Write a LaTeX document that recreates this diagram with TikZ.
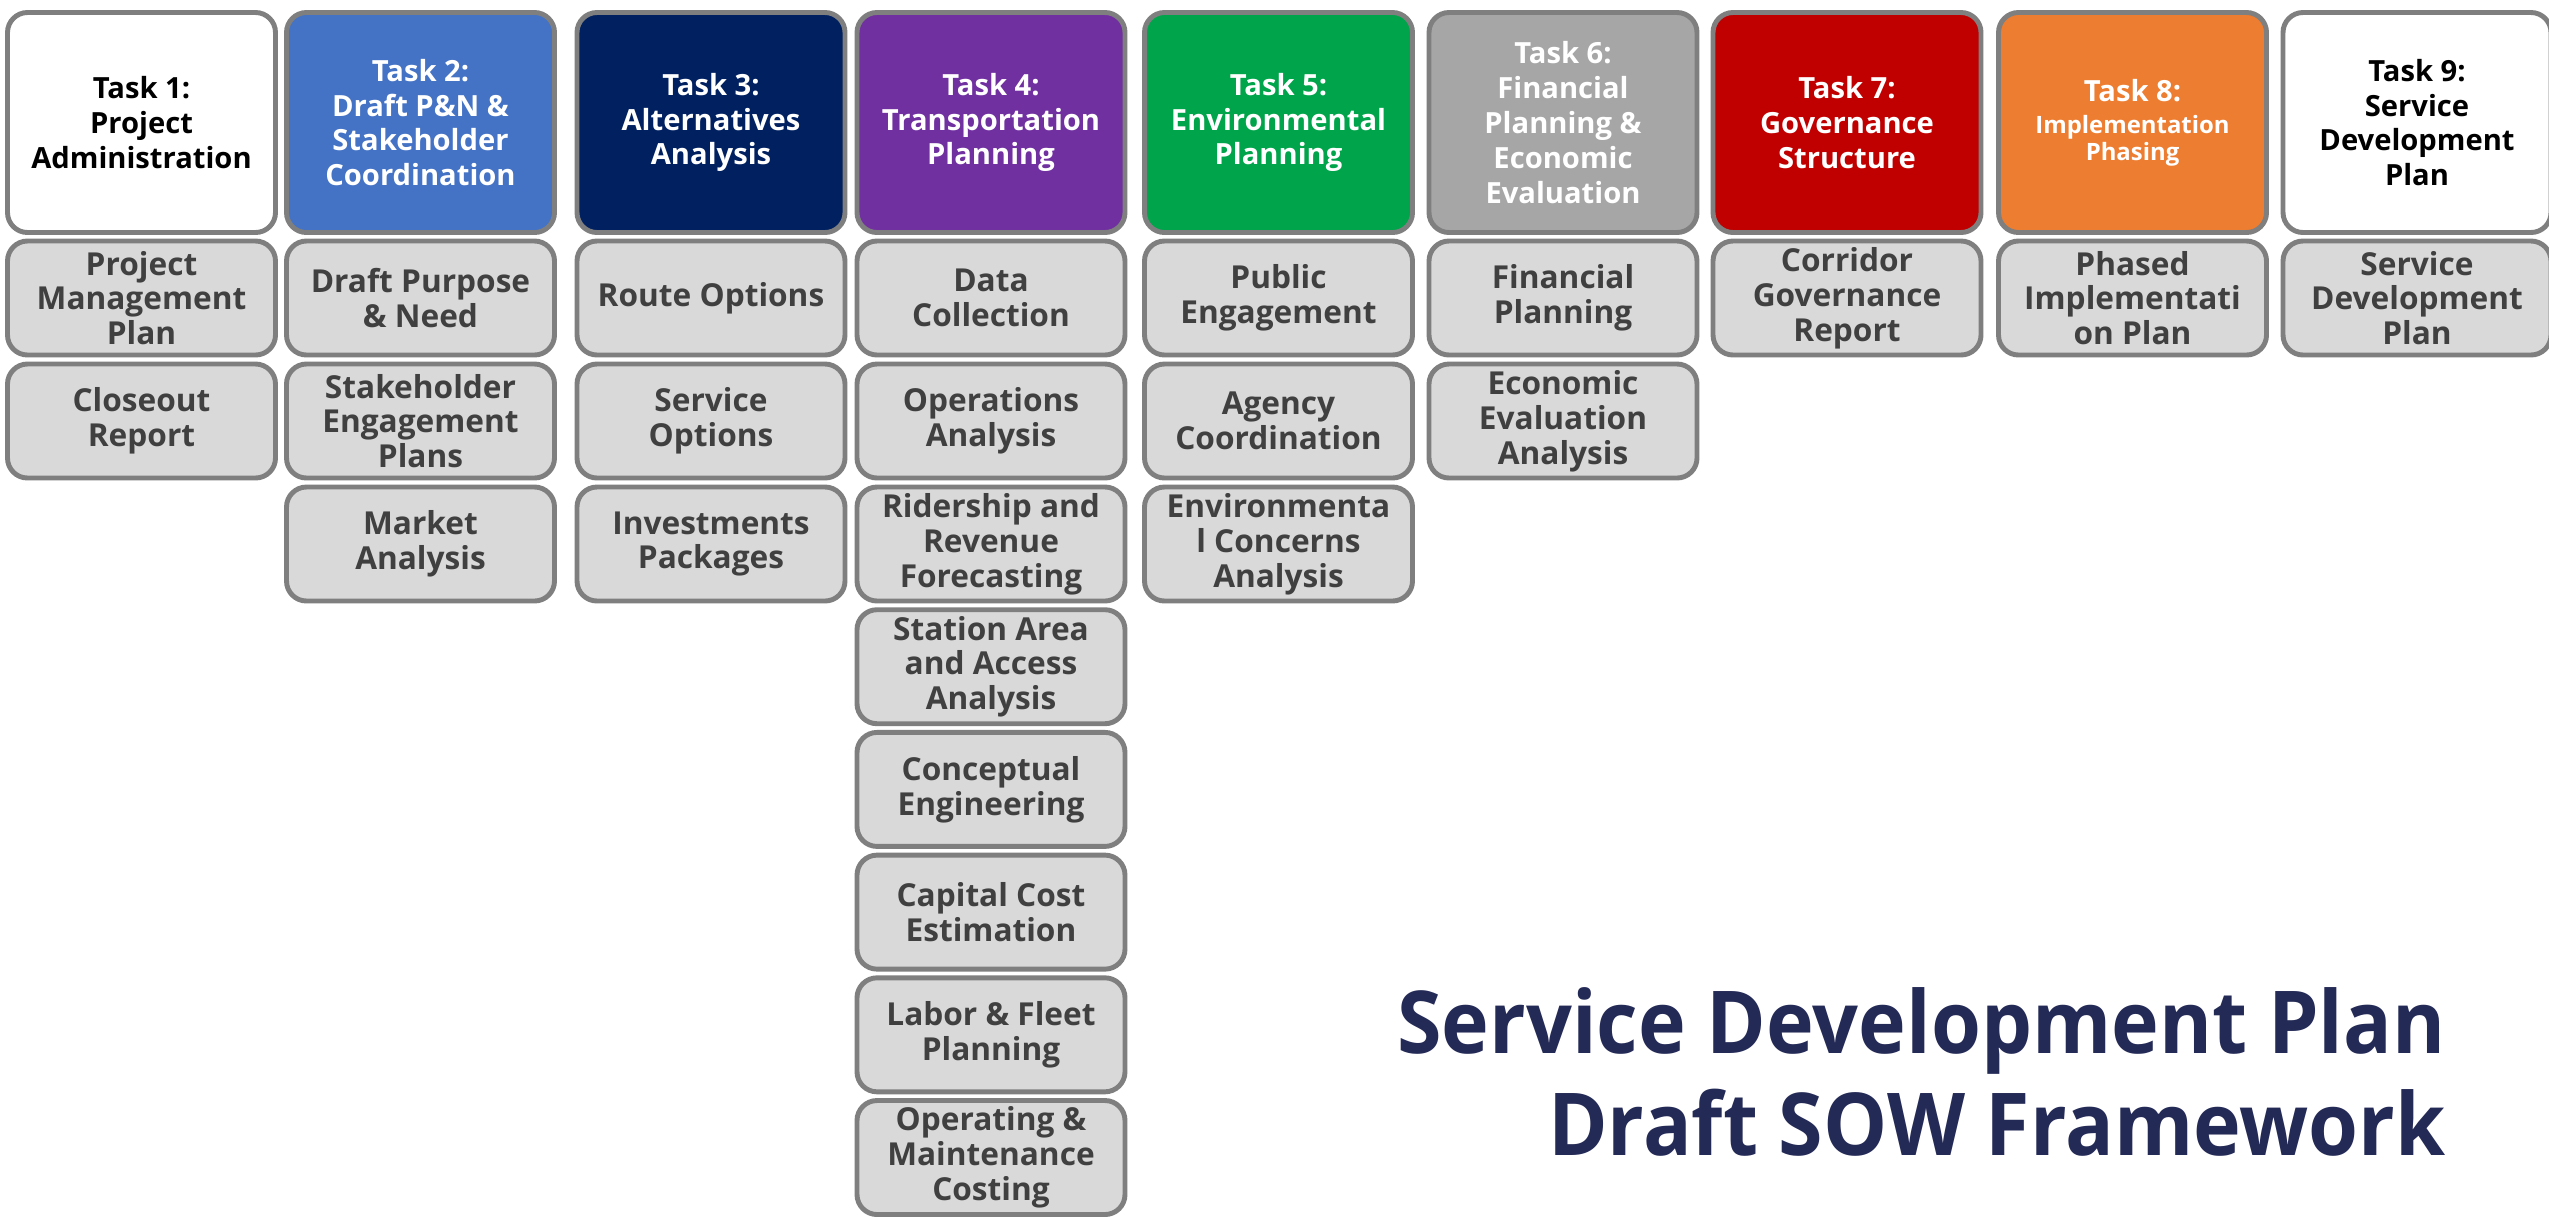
\documentclass[tikz,border=0pt]{standalone}
\usepackage{fontspec}
\setmainfont{Open Sans}
\newfontfamily\titlefont{Open Sans}[FakeStretch=0.93]
\usepackage{tikz}

\definecolor{boxline}{HTML}{7F7F7F}
\definecolor{subfill}{HTML}{D9D9D9}
\definecolor{subtext}{HTML}{404040}
\definecolor{taskblue}{HTML}{4472C4}
\definecolor{tasknavy}{HTML}{002060}
\definecolor{taskpurple}{HTML}{7030A0}
\definecolor{taskgreen}{HTML}{00A44A}
\definecolor{taskgrey}{HTML}{A6A6A6}
\definecolor{taskred}{HTML}{C00000}
\definecolor{taskorange}{HTML}{ED7D31}
\definecolor{titlenavy}{HTML}{242A56}

\tikzset{
    task/.style={draw=boxline, line width=1.4pt, rounded corners=0.2cm,
        minimum width=2.68cm, minimum height=2.2cm, inner sep=0pt,
        align=center, font=\bfseries\fontsize{8.3}{9.9}\selectfont},
    deliverable/.style={draw=boxline, fill=subfill, text=subtext,
        line width=1.4pt, rounded corners=0.2cm,
        minimum width=2.68cm, minimum height=1.14cm, inner sep=0pt,
        align=center, font=\bfseries\fontsize{9}{9.9}\selectfont}
}
\newcommand{\smalltask}{\fontsize{6.8}{7.7}\selectfont}

\begin{document}
\begin{tikzpicture}
            \path[fill=white, use as bounding box] (0, 0) rectangle (25.49, -12.17);

            % task headers
            \node[task, fill=white, text=black] (t1) at (1.415, -1.225) {Task 1:\\Project\\Administration};
            \node[task, fill=taskblue, text=white] (t2) at (4.205, -1.225) {Task 2:\\Draft P\&N \&\\Stakeholder\\Coordination};
            \node[task, fill=tasknavy, text=white] (t3) at (7.11, -1.225) {Task 3:\\Alternatives\\Analysis};
            \node[task, fill=taskpurple, text=white] (t4) at (9.91, -1.225) {Task 4:\\Transportation\\Planning};
            \node[task, fill=taskgreen, text=white] (t5) at (12.785, -1.225) {Task 5:\\Environmental\\Planning};
            \node[task, fill=taskgrey, text=white] (t6) at (15.63, -1.225) {Task 6:\\Financial\\Planning \&\\Economic\\Evaluation};
            \node[task, fill=taskred, text=white] (t7) at (18.47, -1.225) {Task 7:\\Governance\\Structure};
            \node[task, fill=taskorange, text=white] (t8) at (21.325, -1.225) {Task 8:\\[-0.8pt]{\smalltask Implementation}\\[-2.2pt]{\smalltask Phasing}};
            \node[task, fill=white, text=black] (t9) at (24.17, -1.225) {Task 9:\\Service\\Development\\Plan};

            % deliverables
            \node[deliverable] (t1a) at (1.415, -2.98) {Project\\Management\\Plan};
            \node[deliverable] (t1b) at (1.415, -4.21) {Closeout\\Report};

            \node[deliverable] (t2a) at (4.205, -2.98) {Draft Purpose\\\& Need};
            \node[deliverable] (t2b) at (4.205, -4.21) {Stakeholder\\Engagement\\Plans};
            \node[deliverable] (t2c) at (4.205, -5.44) {Market\\Analysis};

            \node[deliverable] (t3a) at (7.11, -2.98) {Route Options};
            \node[deliverable] (t3b) at (7.11, -4.21) {Service\\Options};
            \node[deliverable] (t3c) at (7.11, -5.44) {Investments\\Packages};

            \node[deliverable] (t4a) at (9.91, -2.98) {Data\\Collection};
            \node[deliverable] (t4b) at (9.91, -4.21) {Operations\\Analysis};
            \node[deliverable] (t4c) at (9.91, -5.44) {Ridership and\\Revenue\\Forecasting};
            \node[deliverable] (t4d) at (9.91, -6.667) {Station Area\\and Access\\Analysis};
            \node[deliverable] (t4e) at (9.91, -7.894) {Conceptual\\Engineering};
            \node[deliverable] (t4f) at (9.91, -9.121) {Capital Cost\\Estimation};
            \node[deliverable] (t4g) at (9.91, -10.348) {Labor \& Fleet\\Planning};
            \node[deliverable] (t4h) at (9.91, -11.575) {Operating \&\\Maintenance\\Costing};

            \node[deliverable] (t5a) at (12.785, -2.98) {Public\\Engagement};
            \node[deliverable] (t5b) at (12.785, -4.21) {Agency\\Coordination};
            \node[deliverable] (t5c) at (12.785, -5.44) {Environmenta\\l Concerns\\Analysis};

            \node[deliverable] (t6a) at (15.63, -2.98) {Financial\\Planning};
            \node[deliverable] (t6b) at (15.63, -4.21) {Economic\\Evaluation\\Analysis};

            \node[deliverable] (t7a) at (18.47, -2.98) {Corridor\\Governance\\Report};

            \node[deliverable] (t8a) at (21.325, -2.98) {Phased\\Implementati\\on Plan};

            \node[deliverable] (t9a) at (24.17, -2.98) {Service\\Development\\Plan};

            % title
            \node[anchor=north east, inner sep=0pt, align=right, text=titlenavy,
                font=\titlefont\bfseries\fontsize{24.7}{28.9}\selectfont]
                (title) at (24.46, -9.87) {Service Development Plan\\Draft SOW Framework};
        \end{tikzpicture}
\end{document}
